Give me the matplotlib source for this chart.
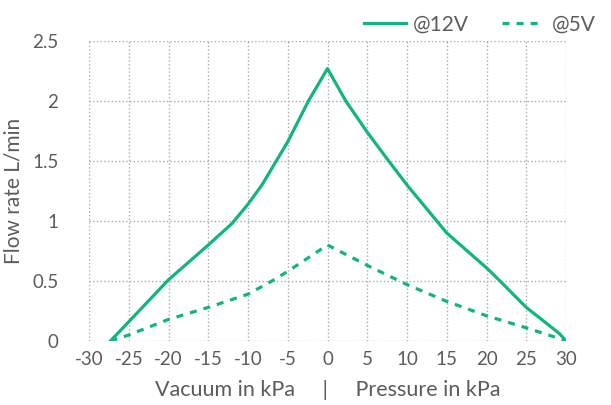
import numpy as np
import matplotlib
matplotlib.use('Agg')
import matplotlib.pyplot as plt

plt.rcParams['font.family'] = ['Lato', 'DejaVu Sans']
plt.rcParams['axes.unicode_minus'] = False

green = '#12b57a'
grey = '#5c5c5c'

# flow at 12V, vacuum side (negative) and pressure side (positive)
p12 = [-27.3, -25, -20, -15, -12, -10, -8.25, -5, -2.4, 0,
       2.3, 5, 7.7, 10, 15, 20, 21.7, 25, 27.5, 29.2, 30]
f12 = [0, 0.16, 0.51, 0.80, 0.98, 1.14, 1.30, 1.66, 2.0, 2.27,
       2.0, 1.74, 1.5, 1.30, 0.90, 0.61, 0.5, 0.28, 0.15, 0.06, 0]

# flow at 5V
p5 = [-27.3, -25, -20, -15, -10, -7, -5, 0, 5, 10, 15, 20, 25, 29.2, 30]
f5 = [0, 0.05, 0.18, 0.28, 0.39, 0.5, 0.58, 0.80, 0.63, 0.47, 0.33, 0.21, 0.11, 0.02, 0]

xticks = np.arange(-30, 31, 5)
yticks = [0, 0.5, 1, 1.5, 2, 2.5]
ylabels = ['0', '0.5', '1', '1.5', '2', '2.5']

fig = plt.figure(figsize=(6.11, 4.05), dpi=100)
ax = fig.add_axes([89 / 611, 64 / 405, 477 / 611, 300 / 405])

ax.plot(p12, f12, color=green, lw=2.3, label='@12V')
ax.plot(p5, f5, color=green, lw=2.3, ls=(0, (2.2, 2.2)), label='@5V')

ax.set_xlim(-30, 30)
ax.set_ylim(0, 2.5)
ax.set_xticks(xticks)
ax.set_yticks(yticks)
ax.set_yticklabels(ylabels)
ax.grid(True, color='#aaaaaa', ls=':', lw=1)
for s in ax.spines.values():
    s.set_visible(False)
ax.tick_params(length=0, labelsize=13.5, colors=grey, pad=7)
ax.tick_params(axis='y', pad=22)

ax.set_ylabel('Flow rate L/min', fontsize=15, color=grey, labelpad=6)
ax.set_xlabel('Vacuum in kPa     |     Pressure in kPa', fontsize=15.5,
              color=grey, labelpad=9)

fig.legend(loc='upper right', bbox_to_anchor=(1.005, 1.01), ncol=2, frameon=False,
           fontsize=15, labelcolor=grey,
           handlelength=2.0, columnspacing=1.6, handletextpad=0.35)

plt.savefig('out.png', dpi=100)
